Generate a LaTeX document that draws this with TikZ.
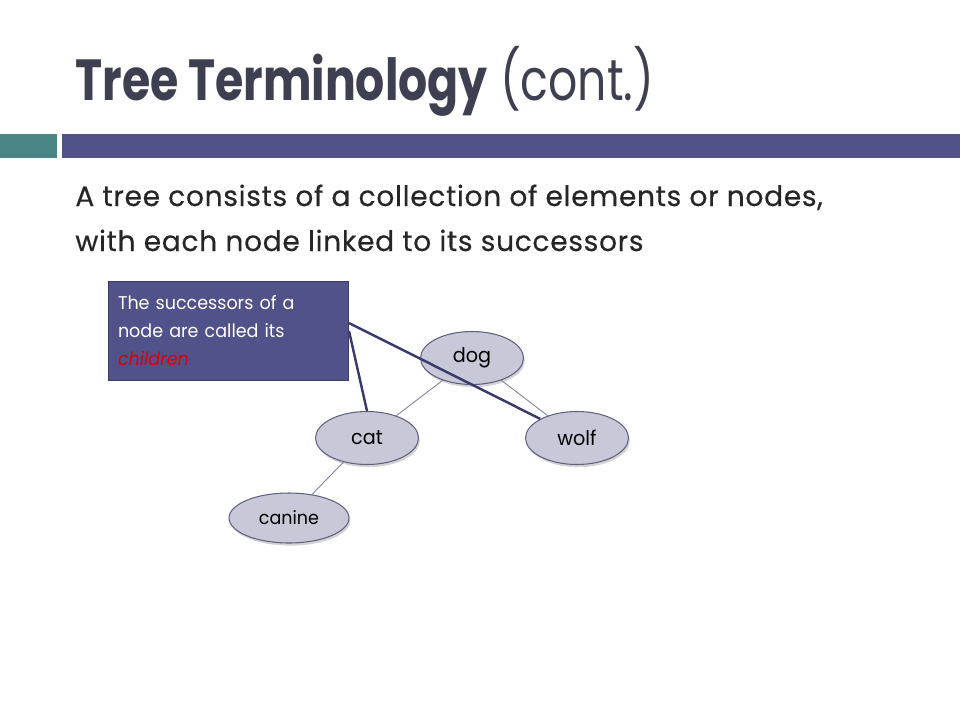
\documentclass[tikz,border=0pt]{standalone}
\usepackage{fontspec}
\setmainfont[FakeStretch=0.95]{Poppins}
\newfontfamily\headfont[FakeStretch=0.79]{Poppins}
\newfontfamily\bodyfont[LetterSpace=2.4,FakeBold=0.4]{Poppins}
\usepackage{tikz}
\usetikzlibrary{shapes.geometric,shadows}

\definecolor{slatebar}{HTML}{52528A}
\definecolor{tealbar}{HTML}{4A8585}
\definecolor{titlegray}{HTML}{3F3F52}
\definecolor{bubble}{HTML}{C8C8D9}
\definecolor{bubbleline}{HTML}{60607F}
\definecolor{pointer}{HTML}{3B3B6B}

\begin{document}
\begin{tikzpicture}[x=0.02cm,y=-0.02cm,
  tree node/.style={ellipse,draw=bubbleline,fill=bubble,line width=0.6pt,
    minimum width=2.06cm,minimum height=1.06cm,inner sep=0pt,
    font=\fontsize{11.5}{14}\selectfont,
    drop shadow={opacity=0.35,shadow xshift=0.8pt,shadow yshift=-1.5pt}},
  branch/.style={draw=bubbleline!80,line width=0.5pt},
  pointer line/.style={draw=pointer,line width=1.4pt}]

  \useasboundingbox (0,0) rectangle (960,720);

  % heading and bars
  \node[anchor=base west,inner sep=0pt,text=titlegray,font=\headfont\fontsize{33}{40}\selectfont] (title) at (75,100)
    {\textbf{Tree Terminology} (cont.)};
  \fill[tealbar] (0,134) rectangle (57,158);
  \fill[slatebar] (62,134) rectangle (960,158);

  \node[anchor=base west,inner sep=0pt,text=black!85,font=\bodyfont\fontsize{16}{20}\selectfont] (line1) at (75,206)
    {A tree consists of a collection of elements or nodes,};
  \node[anchor=base west,inner sep=0pt,text=black!85,font=\bodyfont\fontsize{16}{20}\selectfont] (line2) at (75,251)
    {with each node linked to its successors};

  % the tree
  \node[tree node] (dog) at (472,358) {dog};
  \node[tree node] (cat) at (367,438) {cat};
  \node[tree node] (wolf) at (577,438) {wolf};
  \node[tree node,minimum width=2.4cm,minimum height=1.0cm,font=\fontsize{10.5}{13}\selectfont] (canine) at (289,518) {canine};

  \path[branch] (dog) -- (cat) (dog) -- (wolf) (cat) -- (canine);

  % callout
  \node[draw=pointer,fill=slatebar,text=white,minimum width=4.8cm,minimum height=1.98cm,
    text width=4.4cm,align=left,inner xsep=0.2cm,font=\fontsize{10.5}{15.9}\selectfont] (note) at (228,330.5)
    {The successors of a\\node are called its\\\textcolor{red!85!black}{\textit{children}}};
  \coordinate (tipA) at (349,323);
  \coordinate (tipB) at (349,331);
  \path[pointer line] (tipA) -- (wolf.north west) (tipB) -- (cat.north);
\end{tikzpicture}
\end{document}
